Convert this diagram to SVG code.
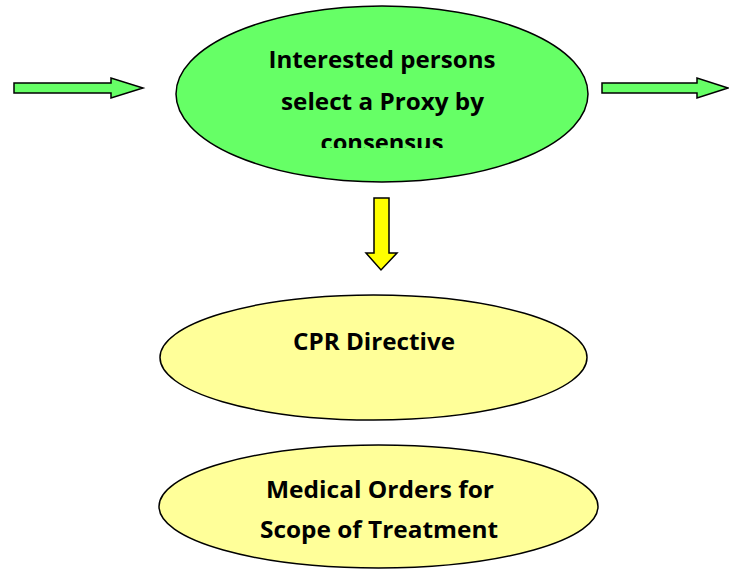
<svg xmlns="http://www.w3.org/2000/svg" width="729" height="573" viewBox="0 0 729 573">
<style>
.t{font-family:"Open Sans","Noto Sans","Liberation Sans",sans-serif;font-weight:bold;font-size:24px;fill:#000;text-anchor:middle}
.o{stroke:#000;stroke-width:1.5;stroke-linejoin:miter}
</style>
<defs><clipPath id="c1"><rect x="0" y="0" width="729" height="148"/></clipPath></defs>
<rect width="729" height="573" fill="#fff"/>
<g id="connectors">
<path class="o" fill="#66FF66" d="M14,83 L111,83 L111,78 L143,88 L111,98 L111,93 L14,93 Z"/>
<path class="o" fill="#66FF66" d="M602,83 L697,83 L697,78 L728,88 L697,98 L697,93 L602,93 Z"/>
<path class="o" fill="#FFFF00" d="M374,198 L389,198 L389,253 L397,253 L381,270 L366,253 L374,253 Z"/>
</g>
<g id="proxy">
<ellipse class="o" fill="#66FF66" cx="382" cy="94" rx="206" ry="88"/>
<g clip-path="url(#c1)">
<text class="t" x="382" y="68" textLength="227" lengthAdjust="spacingAndGlyphs">Interested persons</text>
<text class="t" x="382.5" y="110" textLength="203" lengthAdjust="spacingAndGlyphs">select a Proxy by</text>
<text class="t" x="382" y="151" textLength="123" lengthAdjust="spacingAndGlyphs">consensus</text>
</g>
</g>
<g id="cpr">
<ellipse class="o" fill="#FFFF99" cx="373.5" cy="357.5" rx="213.5" ry="62.5"/>
<text class="t" x="374" y="350" textLength="162" lengthAdjust="spacingAndGlyphs">CPR Directive</text>
</g>
<g id="medical">
<ellipse class="o" fill="#FFFF99" cx="378.5" cy="506.5" rx="219.5" ry="61.5"/>
<text class="t" x="380" y="498" textLength="228" lengthAdjust="spacingAndGlyphs">Medical Orders for</text>
<text class="t" x="379" y="538" textLength="238" lengthAdjust="spacingAndGlyphs">Scope of Treatment</text>
</g>
</svg>
